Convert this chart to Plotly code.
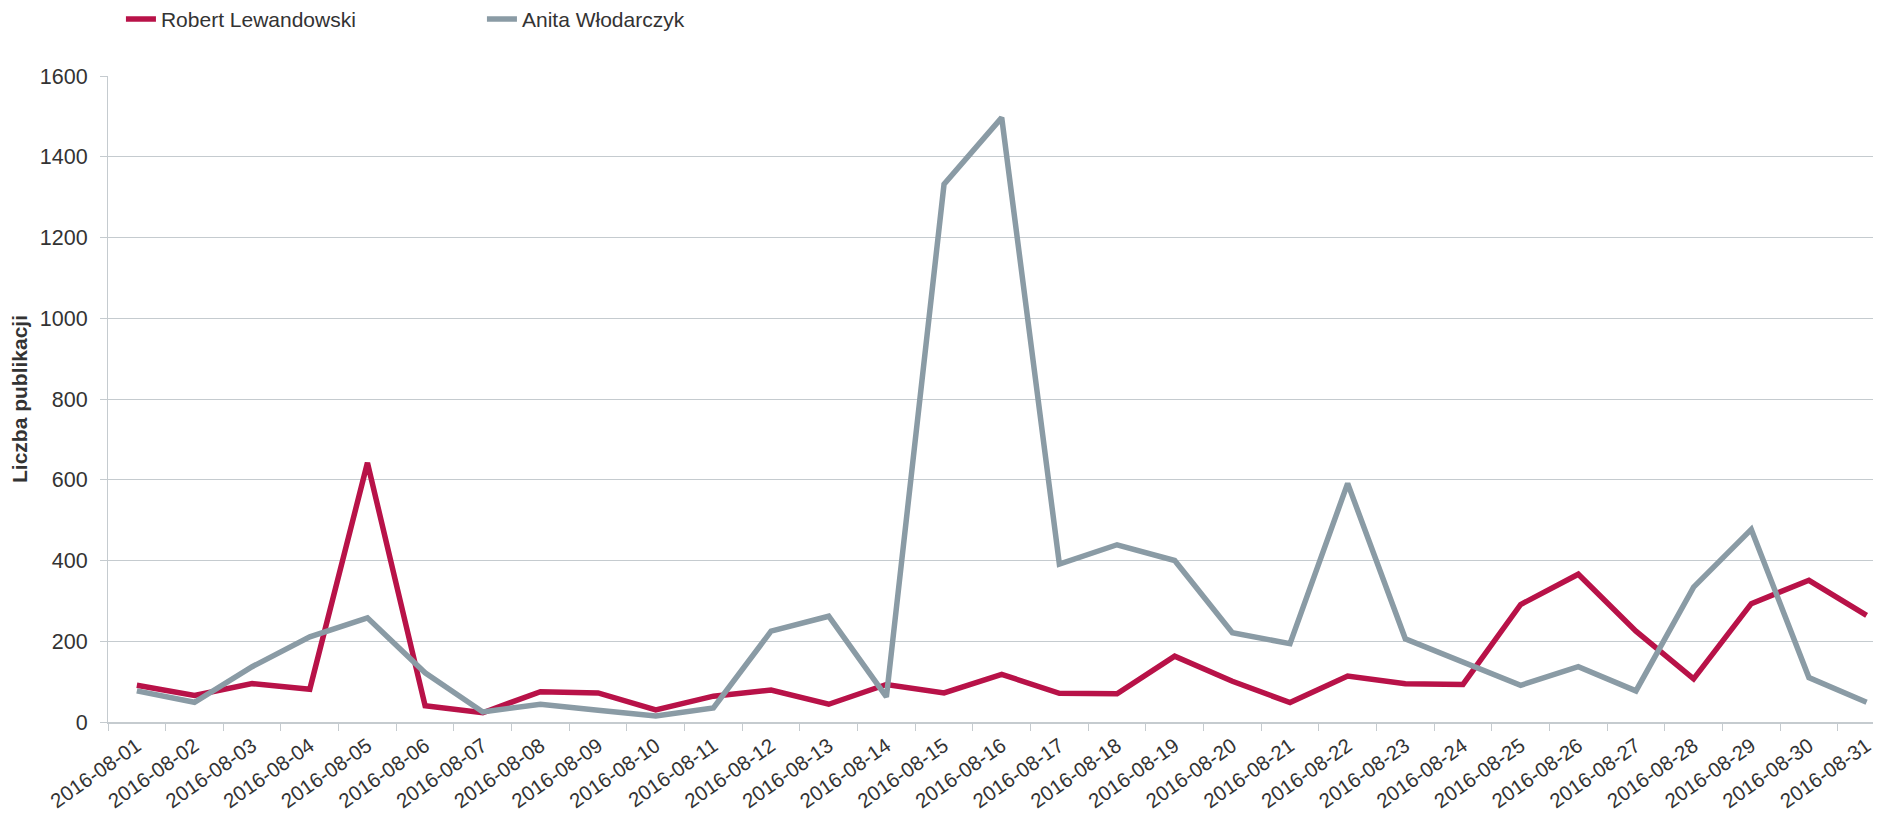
import plotly.graph_objects as go

dates = [f"2016-08-{d:02d}" for d in range(1, 32)]

lewandowski = [91, 66, 95, 81, 642, 40, 23, 75, 72, 30, 64, 79, 44, 93, 72,
               118, 71, 70, 163, 101, 48, 114, 95, 93, 291, 366, 225, 107, 293, 351, 264]
wlodarczyk = [77, 49, 137, 211, 258, 122, 25, 44, 29, 15, 35, 225, 262, 62, 1332,
              1497, 391, 439, 400, 221, 194, 591, 206, 150, 91, 137, 77, 334, 477, 110, 49]

series_names = ["Robert Lewandowski", "Anita Włodarczyk"]
series_colors = ["#B81248", "#8A9BA5"]

FONT = "Liberation Sans, Arial, sans-serif"
TEXT = "#333333"
GRID = "#C5CBCF"

fig = go.Figure()
for name, vals, col in zip(series_names, [lewandowski, wlodarczyk], series_colors):
    fig.add_trace(go.Scatter(
        x=dates, y=vals, mode="lines", name=name,
        line=dict(color=col, width=5.5),
    ))

# page body has an 8px margin, so the figure is sized to fill the rest of the window
fig.update_layout(
    width=1873, height=806,
    margin=dict(l=100, r=0, t=68, b=92, pad=0, autoexpand=False),
    plot_bgcolor="white", paper_bgcolor="white",
    font=dict(family=FONT, size=21, color=TEXT),
    showlegend=True,
    legend=dict(
        orientation="h", xref="container", yref="container",
        x=0.0603, y=0.986, xanchor="left", yanchor="middle",
        font=dict(size=21, color=TEXT), entrywidth=316,
        bgcolor="rgba(0,0,0,0)", itemclick=False,
    ),
    xaxis=dict(
        type="category", categoryorder="array", categoryarray=dates,
        range=[-0.5, 30.25], tickson="boundaries", automargin=False,
        ticks="outside", ticklen=7, tickcolor=GRID, tickwidth=1,
        showline=True, linecolor=GRID, linewidth=2,
        showgrid=False, tickangle=-35, ticklabelstandoff=2,
        tickfont=dict(size=20.5, color=TEXT), zeroline=False,
    ),
    yaxis=dict(
        range=[0, 1600], dtick=200, tick0=0, automargin=False,
        ticks="outside", ticklen=7, tickcolor=GRID,
        showline=True, linecolor=GRID, linewidth=1,
        showgrid=True, gridcolor=GRID, gridwidth=1,
        zeroline=False, ticklabelstandoff=8,
        tickfont=dict(size=21.5, color=TEXT),
        title=dict(text="<b>Liczba publikacji</b>", font=dict(size=21, color=TEXT), standoff=15),
    ),
)

fig.write_html("out.html")
